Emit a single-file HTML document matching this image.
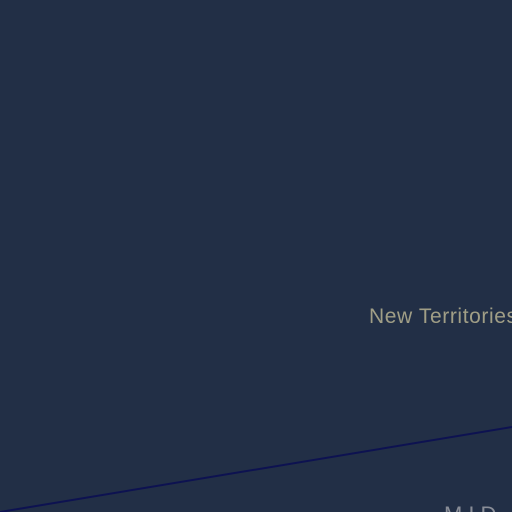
<!DOCTYPE html>
<html><head><meta charset="utf-8"><style>
html,body{margin:0;padding:0;width:512px;height:512px;overflow:hidden;background:#222f46;}
</style></head><body>
<svg width="512" height="512" viewBox="0 0 512 512" style="display:block">
<rect x="0" y="0" width="512" height="512" fill="#222f46"/>
<line x1="0" y1="512" x2="512" y2="427" stroke="#0d1251" stroke-width="2"/>
<text x="369" y="323" font-family="Liberation Sans, sans-serif" font-size="21" letter-spacing="0.6" fill="#a09e86">New Territories</text>
<text x="444" y="522" font-family="Liberation Sans, sans-serif" font-size="22" letter-spacing="6" fill="#8a8e98">MID</text>
</svg>
</body></html>
